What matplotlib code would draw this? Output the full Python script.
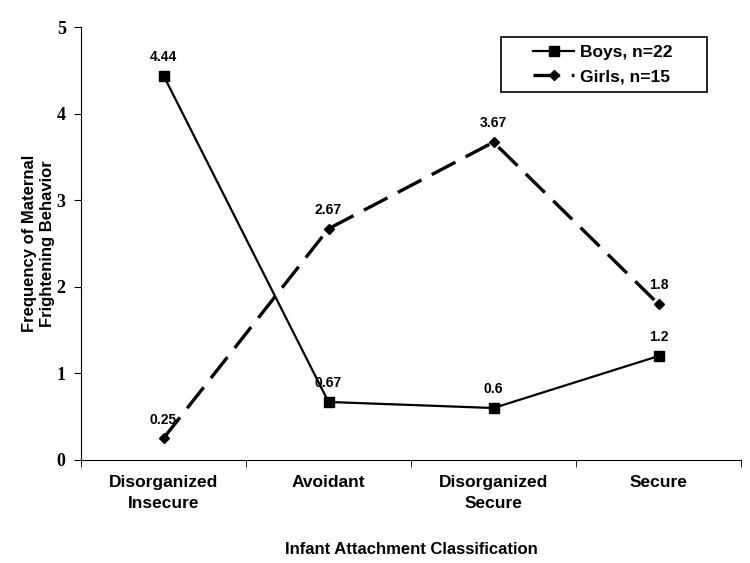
import matplotlib
matplotlib.use("Agg")
import matplotlib.pyplot as plt
from matplotlib.patches import Rectangle

categories = ["Disorganized\nInsecure", "Avoidant", "Disorganized\nSecure", "Secure"]
boys = [4.44, 0.67, 0.6, 1.2]
girls = [0.25, 2.67, 3.67, 1.8]
boys_labels = ["4.44", "0.67", "0.6", "1.2"]
girls_labels = ["0.25", "2.67", "3.67", "1.8"]
yticks = [0, 1, 2, 3, 4, 5]

plt.rcParams['font.family'] = ['Liberation Sans', 'DejaVu Sans']
fig = plt.figure(figsize=(7.5, 5.63), dpi=100)
ax = fig.add_axes([0.108, 0.183, 0.880, 0.769])

x = list(range(len(categories)))
ax.plot(x, boys, color='black', lw=1.6, marker='s', ms=7.5, label='Boys, n=22')
ax.plot(x, girls, color='black', lw=2.4, marker='D', ms=5, dashes=(8, 3.5), label='Girls, n=15')

for xi, v, t in zip(x, boys, boys_labels):
    ax.annotate(t, (xi, v), xytext=(0, 13.5), textcoords='offset points', ha='center',
                va='center', fontsize=10, fontweight='bold')
for xi, v, t in zip(x, girls, girls_labels):
    ax.annotate(t, (xi, v), xytext=(0, 13.5), textcoords='offset points', ha='center',
                va='center', fontsize=10, fontweight='bold')

ax.set_xlim(-0.5, 3.5)
ax.set_ylim(0, 5)
ax.set_yticks(yticks)
ax.set_yticklabels([str(v) for v in yticks], fontfamily='Liberation Serif', fontweight='bold', fontsize=13)
ax.set_xticks(x)
ax.set_xticklabels(categories, fontweight='bold', fontsize=12.5, linespacing=1.5)
ax.set_xticks([-0.5, 0.5, 1.5, 2.5, 3.5], minor=True)
ax.tick_params(axis='x', which='major', length=0, pad=11)
ax.tick_params(axis='x', which='minor', length=5, direction='out')
ax.tick_params(axis='y', length=5, direction='out', pad=6)
for s in ['top', 'right']:
    ax.spines[s].set_visible(False)

ax.set_ylabel("Frequency of Maternal\nFrightening Behavior", fontweight='bold', fontsize=12)
ax.yaxis.set_label_coords(-0.04, 0.5)
ax.set_xlabel("Infant Attachment Classification", fontweight='bold', fontsize=12)
ax.xaxis.set_label_coords(0.5, -0.19)

leg = ax.legend(loc='center', bbox_to_anchor=(0.79, 0.913),
                prop={'weight': 'bold', 'size': 12.5}, frameon=False,
                handlelength=2.4, borderpad=0, labelspacing=0.5,
                handletextpad=0.3, borderaxespad=0)
ax.add_patch(Rectangle((0.636, 0.850), 0.312, 0.127, transform=ax.transAxes,
                       fill=False, edgecolor='black', lw=1.2, clip_on=False, zorder=5))

fig.savefig("out.png", dpi=100)
